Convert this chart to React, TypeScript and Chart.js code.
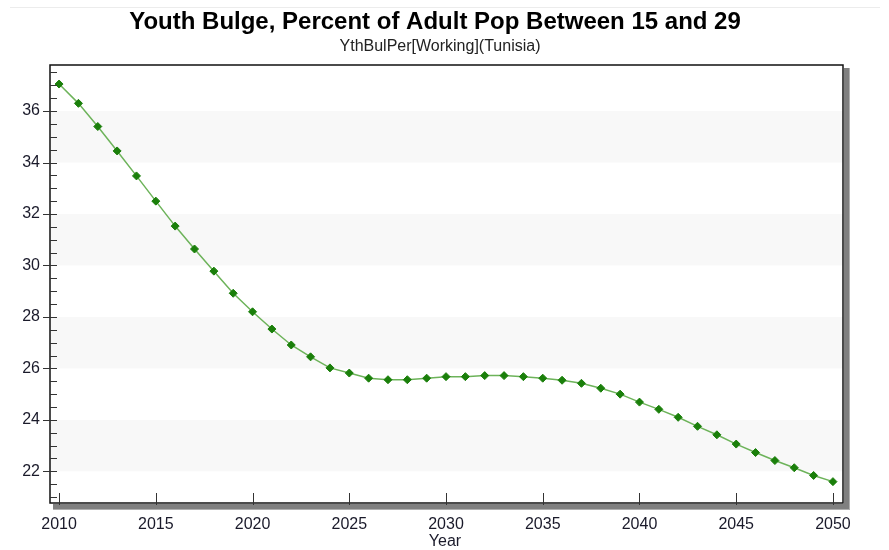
import React, { useEffect, useRef } from "react";
import { Chart, registerables } from "chart.js";

Chart.register(...registerables);

const years: number[] = [];
for (let y = 2010; y <= 2050; y++) years.push(y);

const values: number[] = [
  37.05, 36.3, 35.4, 34.45, 33.48, 32.5, 31.53, 30.64, 29.78, 28.92,
  28.2, 27.53, 26.91, 26.45, 26.02, 25.82, 25.62, 25.56, 25.56, 25.62,
  25.68, 25.68, 25.72, 25.72, 25.68, 25.62, 25.54, 25.42, 25.23, 25.0,
  24.69, 24.41, 24.1, 23.75, 23.42, 23.06, 22.73, 22.42, 22.14, 21.84,
  21.6,
];

const xTicks = [2010, 2015, 2020, 2025, 2030, 2035, 2040, 2045, 2050];
const yTicks = [22, 24, 26, 28, 30, 32, 34, 36];
const yMinorTicks: number[] = [];
for (let v = 21; v <= 37.5; v += 0.5) yMinorTicks.push(v);
const bands: [number, number][] = [
  [22, 24],
  [26, 28],
  [30, 32],
  [34, 36],
];

const TITLE = "Youth Bulge, Percent of Adult Pop Between 15 and 29";
const SUBTITLE = "YthBulPer[Working](Tunisia)";
const X_TITLE = "Year";
const FONT = "'Liberation Sans', Arial, sans-serif";

const decorPlugin = {
  id: "decor",
  beforeDatasetsDraw(chart: any) {
    const { ctx, chartArea, scales } = chart;
    const y = scales.y;
    ctx.save();
    ctx.fillStyle = "#f8f8f8";
    for (const [a, b] of bands) {
      const y1 = y.getPixelForValue(b);
      const y2 = y.getPixelForValue(a);
      ctx.fillRect(chartArea.left, y1, chartArea.right - chartArea.left, y2 - y1);
    }
    ctx.restore();
  },
  afterDraw(chart: any) {
    const { ctx, chartArea, scales } = chart;
    const { left, right, top, bottom } = chartArea;
    const x = scales.x;
    const y = scales.y;
    ctx.save();
    ctx.strokeStyle = "#ececec";
    ctx.lineWidth = 1;
    ctx.beginPath();
    ctx.moveTo(10, 7.5);
    ctx.lineTo(880, 7.5);
    ctx.stroke();
    ctx.fillStyle = "#808080";
    ctx.fillRect(right + 1, top + 3, 5, bottom - top + 3);
    ctx.fillRect(left + 3, bottom + 1, right - left + 3, 5);
    ctx.fillStyle = "#b0b0b0";
    ctx.fillRect(right + 6, top + 3, 1, bottom - top + 4);
    ctx.fillRect(left + 3, bottom + 6, right - left + 4, 1);
    ctx.strokeStyle = "#111";
    ctx.lineWidth = 1.5;
    ctx.strokeRect(left, top, right - left, bottom - top);
    ctx.strokeStyle = "#333";
    ctx.lineWidth = 1;
    ctx.beginPath();
    for (const v of yMinorTicks) {
      const py = Math.round(y.getPixelForValue(v)) + 0.5;
      const major = Math.abs(v - Math.round(v)) < 1e-6 && Math.round(v) % 2 === 0;
      ctx.moveTo(major ? left - 7 : left, py);
      ctx.lineTo(left + 7, py);
    }
    for (const v of xTicks) {
      const px = Math.round(x.getPixelForValue(v)) + 0.5;
      ctx.moveTo(px, bottom - 10);
      ctx.lineTo(px, bottom + 2);
    }
    ctx.stroke();
    ctx.fillStyle = "#000";
    ctx.textAlign = "center";
    ctx.textBaseline = "middle";
    ctx.font = `bold 24px ${FONT}`;
    ctx.fillText(TITLE, 435, 22);
    ctx.font = `16px ${FONT}`;
    ctx.fillStyle = "#222";
    ctx.fillText(SUBTITLE, 440, 47);
    ctx.fillStyle = "#1a1a2a";
    ctx.fillText(X_TITLE, 445, 542);
    ctx.restore();
  },
};

export default function App() {
  const ref = useRef<HTMLCanvasElement | null>(null);
  useEffect(() => {
    if (!ref.current) return;
    const chart = new Chart(ref.current, {
      type: "line",
      data: {
        datasets: [
          {
            data: years.map((yr, i) => ({ x: yr, y: values[i] })),
            borderColor: "#6db35a",
            borderWidth: 1.5,
            pointStyle: "rectRot",
            pointRadius: 4,
            pointBackgroundColor: "#1a7f0a",
            pointBorderColor: "#1a7f0a",
            pointBorderWidth: 1,
            tension: 0,
          },
        ],
      },
      options: {
        animation: false,
        responsive: false,
        layout: { padding: { top: 65, right: 46, left: 0, bottom: 0 } },
        plugins: {
          legend: { display: false },
          tooltip: { enabled: false },
          title: { display: false },
        },
        scales: {
          x: {
            type: "linear",
            min: 2009.53,
            max: 2050.52,
            afterBuildTicks: (s: any) => {
              s.ticks = xTicks.map((v) => ({ value: v }));
            },
            afterFit: (s: any) => {
              s.height = 47;
            },
            grid: { display: false, drawTicks: false },
            border: { display: false },
            ticks: {
              padding: 12,
              color: "#1a1a2a",
              font: { family: FONT, size: 16 },
              maxRotation: 0,
              callback: (v: any) => String(v),
            },
          },
          y: {
            type: "linear",
            min: 20.77,
            max: 37.79,
            afterBuildTicks: (s: any) => {
              s.ticks = yTicks.map((v) => ({ value: v }));
            },
            afterFit: (s: any) => {
              s.width = 50;
            },
            grid: { display: false, drawTicks: false },
            border: { display: false },
            ticks: {
              padding: 10,
              color: "#1a1a2a",
              font: { family: FONT, size: 16 },
              callback: (v: any) => String(v),
            },
          },
        },
      },
      plugins: [decorPlugin],
    });
    return () => chart.destroy();
  }, []);
  return (
    <div style={{ position: "absolute", left: 0, top: 0, width: 889, height: 550, background: "#fff" }}>
      <canvas ref={ref} width={889} height={550} />
    </div>
  );
}
